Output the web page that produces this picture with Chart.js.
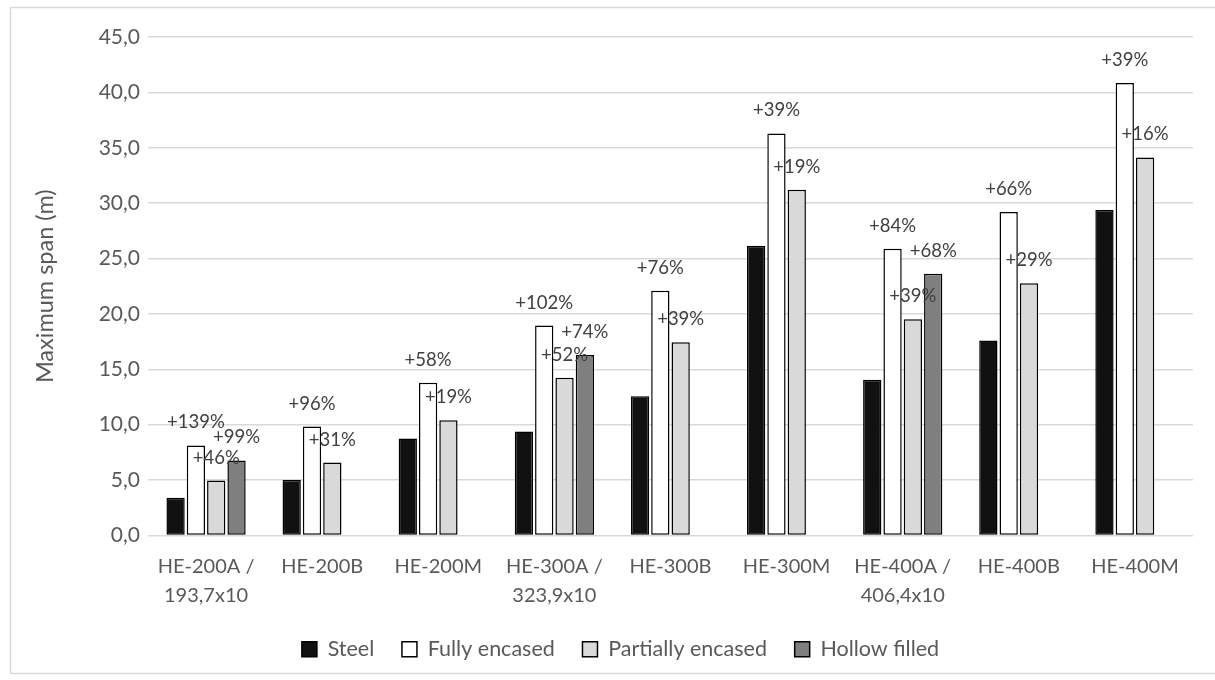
<!DOCTYPE html>
<html>
<head>
<meta charset="utf-8">
<script src="https://cdn.jsdelivr.net/npm/chart.js@4/dist/chart.umd.min.js"></script>
<style>
  html, body { margin: 0; padding: 0; background: #ffffff; }
  #wrap { width: 1215px; height: 680px; position: relative; }
</style>
</head>
<body>
<div id="wrap"><canvas id="chart" width="1215" height="680"></canvas></div>
<script>
// Section sizes along the x axis
const categories = [
  ['HE-200A /', '193,7x10'], 'HE-200B', 'HE-200M',
  ['HE-300A /', '323,9x10'], 'HE-300B', 'HE-300M',
  ['HE-400A /', '406,4x10'], 'HE-400B', 'HE-400M'
];

// Maximum span (m) for each solution
const steel     = [3.40, 5.01, 8.75, 9.38, 12.57, 26.15, 14.07, 17.60, 29.38];
const fully     = [8.13, 9.83, 13.80, 18.95, 22.10, 36.30, 25.88, 29.20, 40.85];
const partially = [4.96, 6.58, 10.40, 14.25, 17.45, 31.20, 19.53, 22.78, 34.13];
const hollow    = [6.77, null, null, 16.30, null, null, 23.62, null, null];

// Gain over the bare steel section, printed above each composite bar
const fullyGain     = ['+139%', '+96%', '+58%', '+102%', '+76%', '+39%', '+84%', '+66%', '+39%'];
const partiallyGain = ['+46%', '+31%', '+19%', '+52%', '+39%', '+19%', '+39%', '+29%', '+16%'];
const hollowGain    = ['+99%', null, null, '+74%', null, null, '+68%', null, null];

const FONT = 'Lato, "Open Sans", sans-serif';
const PAD_LEFT = 48;      // left layout padding (also centres the legend row)
const PLOT_LEFT = 148;    // x position where the plot area starts

// White card with a thin grey frame behind the chart
const framePlugin = {
  id: 'frame',
  beforeDraw(chart) {
    const ctx = chart.ctx;
    ctx.save();
    ctx.fillStyle = '#ffffff';
    ctx.fillRect(0, 0, chart.width, chart.height);
    ctx.strokeStyle = '#d9d9d9';
    ctx.lineWidth = 1.5;
    ctx.strokeRect(10.5, 7.5, chart.width + 20, 666);
    ctx.restore();
  }
};

// Percentage labels centred above the bars
const gainLabelPlugin = {
  id: 'gainLabels',
  afterDatasetsDraw(chart) {
    const ctx = chart.ctx;
    ctx.save();
    ctx.font = '18.5px ' + FONT;
    ctx.fillStyle = '#404040';
    ctx.textAlign = 'center';
    ctx.textBaseline = 'middle';
    chart.data.datasets.forEach((ds, di) => {
      if (!ds.gain) return;
      const meta = chart.getDatasetMeta(di);
      meta.data.forEach((bar, i) => {
        const txt = ds.gain[i];
        if (txt == null || ds.data[i] == null) return;
        ctx.fillText(txt, bar.x, bar.y - 23);
      });
    });
    ctx.restore();
  }
};

const barStyle = { borderColor: '#000000', borderWidth: 1.5, borderSkipped: false,
                   categoryPercentage: 0.7, barPercentage: 0.9 };

new Chart(document.getElementById('chart'), {
  type: 'bar',
  data: {
    labels: categories,
    datasets: [
      Object.assign({ label: 'Steel', data: steel, backgroundColor: '#111111' }, barStyle),
      Object.assign({ label: 'Fully encased', data: fully, backgroundColor: '#ffffff', gain: fullyGain }, barStyle),
      Object.assign({ label: 'Partially encased', data: partially, backgroundColor: '#d9d9d9', gain: partiallyGain }, barStyle),
      Object.assign({ label: 'Hollow filled', data: hollow, backgroundColor: '#7f7f7f', gain: hollowGain }, barStyle)
    ]
  },
  options: {
    responsive: false,
    animation: false,
    devicePixelRatio: 1,
    layout: { padding: { left: PAD_LEFT, right: 22, top: 37, bottom: 10 } },
    plugins: {
      tooltip: { enabled: false },
      legend: {
        position: 'bottom',
        labels: {
          boxWidth: 15,
          boxHeight: 15,
          padding: 27.7,
          color: '#595959',
          font: { family: FONT, size: 21.5 }
        }
      }
    },
    scales: {
      x: {
        grid: { display: false, drawTicks: false },
        border: { display: false },
        ticks: {
          color: '#595959',
          font: { family: FONT, size: 20, lineHeight: 1.45 },
          padding: 17,
          maxRotation: 0,
          autoSkip: false
        },
        afterFit(scale) { scale.height = 75.3; }
      },
      y: {
        min: 0,
        max: 45,
        grid: { color: '#d9d9d9', lineWidth: 1.5, drawTicks: false },
        border: { display: false },
        ticks: {
          stepSize: 5,
          color: '#595959',
          font: { family: FONT, size: 21 },
          padding: 8,
          callback: v => v.toFixed(1).replace('.', ',')
        },
        title: {
          display: true,
          text: 'Maximum span (m)',
          color: '#595959',
          font: { family: FONT, size: 23.5 },
          // title centre sits at x = 45, left of the padded scale box
          padding: { top: 45 - PAD_LEFT - 23.5 * 1.2 / 2, bottom: 0 }
        },
        afterFit(scale) { scale.width = PLOT_LEFT - PAD_LEFT; }
      }
    }
  },
  plugins: [framePlugin, gainLabelPlugin]
});
</script>
</body>
</html>
